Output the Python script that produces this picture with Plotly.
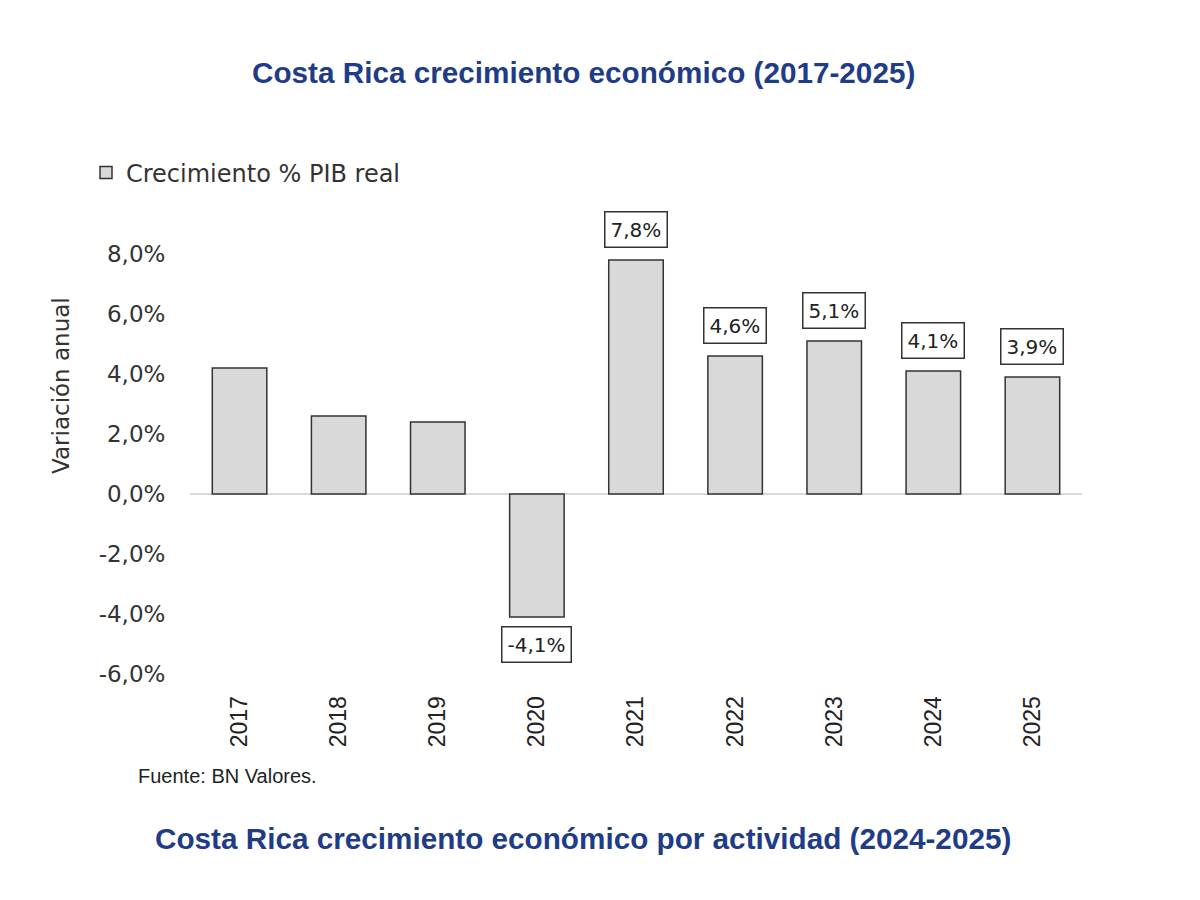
import plotly.graph_objects as go

years = ["2017", "2018", "2019", "2020", "2021", "2022", "2023", "2024", "2025"]
growth = [4.2, 2.6, 2.4, -4.1, 7.8, 4.6, 5.1, 4.1, 3.9]
labeled_years = ["2020", "2021", "2022", "2023", "2024", "2025"]
y_ticks = [-6, -4, -2, 0, 2, 4, 6, 8]
y_ticktext = [f"{v:.1f}".replace(".", ",") + "%" for v in y_ticks]

W, H = 1200, 900
OFF = 8  # page body offset
L, R, T, B = 190 - OFF, 1082 - OFF, 240 - OFF, 680 - OFF
SANS = "DejaVu Sans, Verdana, sans-serif"
ARIAL = "Arial, Liberation Sans, sans-serif"

def px_x(p):
    return (p - OFF - L) / (R - L)

def px_y(p):
    return (B - (p - OFF)) / (B - T)

fig = go.Figure()
fig.add_trace(go.Bar(
    x=years, y=growth, name="Crecimiento % PIB real",
    marker=dict(color="#D9D9D9", line=dict(color="#333333", width=1.5)),
    showlegend=True,
))

ann = []
for i, (yr, v) in enumerate(zip(years, growth)):
    if yr not in labeled_years:
        continue
    txt = f"{v:.1f}".replace(".", ",") + "%"
    ann.append(dict(
        x=i, y=v, xref="x", yref="y", text=txt, showarrow=False,
        yanchor="bottom" if v >= 0 else "top",
        yshift=12 if v >= 0 else -9,
        font=dict(family=SANS, size=20, color="#222222"),
        bgcolor="white", bordercolor="#333333", borderwidth=1.5, borderpad=5,
    ))

ann += [
    dict(text="<b>Costa Rica crecimiento económico (2017-2025)</b>", xref="paper", yref="paper",
         x=px_x(583), y=px_y(73), showarrow=False, xanchor="center", yanchor="middle",
         font=dict(family=ARIAL, size=29.7, color="#1F3C88")),
    dict(text="<b>Costa Rica crecimiento económico por actividad (2024-2025)</b>", xref="paper", yref="paper",
         x=px_x(583), y=px_y(838), showarrow=False, xanchor="center", yanchor="middle",
         font=dict(family=ARIAL, size=29.7, color="#1F3C88")),
    dict(text="Fuente: BN Valores.", xref="paper", yref="paper",
         x=px_x(136), y=px_y(776), showarrow=False, xanchor="left", yanchor="middle",
         font=dict(family=ARIAL, size=20, color="#222222")),
    dict(text="Variación anual", xref="paper", yref="paper", textangle=-90,
         x=px_x(61), y=px_y(386), showarrow=False, xanchor="center", yanchor="middle",
         font=dict(family=SANS, size=23, color="#333333")),
]

fig.update_layout(
    width=W, height=H,
    margin=dict(l=L, r=W - R, t=T, b=H - B, pad=0),
    paper_bgcolor="white", plot_bgcolor="white",
    bargap=0.45,
    annotations=ann,
    showlegend=True,
    legend=dict(x=px_x(86), y=px_y(173), xanchor="left", yanchor="middle",
                font=dict(family=SANS, size=24, color="#333333"),
                bgcolor="rgba(0,0,0,0)"),
)
fig.update_xaxes(
    type="category", range=[-0.5, 8.5],
    showgrid=False, showline=False, zeroline=False,
    ticks="outside", ticklen=6, tickcolor="rgba(0,0,0,0)",
    tickangle=-90,
    tickfont=dict(family=ARIAL, size=23, color="#222222"),
)
fig.update_yaxes(
    range=[-6.2, 8.47], tickvals=y_ticks, ticktext=y_ticktext,
    showgrid=False, showline=False, zeroline=True, zerolinecolor="#D9D9D9", zerolinewidth=2,
    ticks="outside", ticklen=19, tickcolor="rgba(0,0,0,0)",
    tickfont=dict(family=SANS, size=23, color="#333333"),
)

fig.write_html("out.html")
